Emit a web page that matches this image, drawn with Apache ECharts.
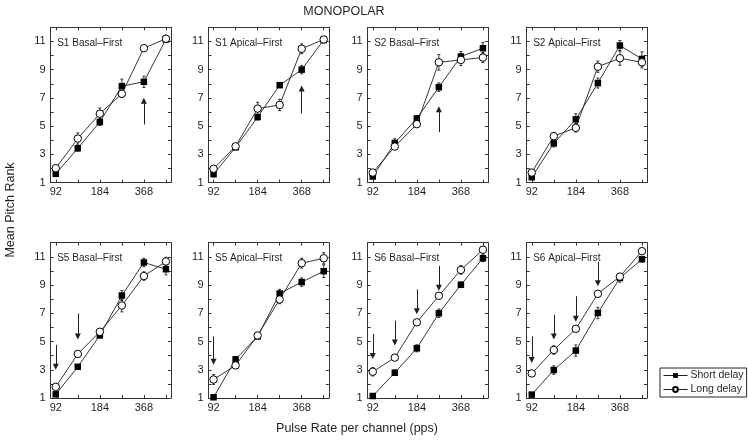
<!DOCTYPE html>
<html>
<head>
<meta charset="utf-8">
<script src="https://cdn.jsdelivr.net/npm/echarts@6/dist/echarts.min.js"></script>
<style>html,body{margin:0;padding:0;background:#fff}#c{width:748px;height:445px}</style>
</head>
<body>
<div id="c"></div>
<script>
// ---- data ----
const rates = ['92', '130', '184', '260', '368', '520'];
const xTickLabels = ['92', '', '184', '', '368', ''];
const yTickLabels = [1, 3, 5, 7, 9, 11];
const panelTitles = ['S1 Basal\u2013First', 'S1 Apical\u2013First', 'S2 Basal\u2013First', 'S2 Apical\u2013First',
                     'S5 Basal\u2013First', 'S5 Apical\u2013First', 'S6 Basal\u2013First', 'S6 Apical\u2013First'];

const shortS1Basal  = [1.62, 3.43, 5.29, 7.83, 8.14, 11.14];
const errShortS1Basal = [0.15, 0.2, 0.25, 0.5, 0.4, 0.2];
const longS1Basal   = [2.02, 4.12, 5.88, 7.29, 10.52, 11.19];
const errLongS1Basal = [0.2, 0.4, 0.4, 0.25, 0.15, 0.25];

const shortS1Apical = [1.6, 3.5, 5.64, 7.9, 9.0, 11.1];
const errShortS1Apical = [0.2, 0.15, 0.2, 0.15, 0.3, 0.2];
const longS1Apical  = [1.98, 3.57, 6.24, 6.5, 10.48, 11.14];
const errLongS1Apical = [0.2, 0.15, 0.45, 0.4, 0.35, 0.2];

const shortS2Basal  = [1.43, 3.81, 5.55, 7.76, 9.93, 10.52];
const errShortS2Basal = [0.15, 0.3, 0.2, 0.3, 0.35, 0.4];
const longS2Basal   = [1.71, 3.55, 5.14, 9.52, 9.69, 9.86];
const errLongS2Basal = [0.15, 0.2, 0.15, 0.55, 0.4, 0.35];

const shortS2Apical = [1.38, 3.78, 5.48, 8.05, 10.71, 9.76];
const errShortS2Apical = [0.15, 0.25, 0.4, 0.35, 0.35, 0.5];
const longS2Apical  = [1.71, 4.29, 4.88, 9.21, 9.81, 9.52];
const errLongS2Apical = [0.2, 0.25, 0.3, 0.4, 0.5, 0.4];

const shortS5Basal  = [1.26, 3.21, 5.43, 8.26, 10.6, 10.12];
const errShortS5Basal = [0.1, 0.15, 0.15, 0.35, 0.3, 0.4];
const longS5Basal   = [1.79, 4.12, 5.69, 7.55, 9.64, 10.67];
const errLongS5Basal = [0.15, 0.15, 0.15, 0.45, 0.3, 0.3];

const shortS5Apical = [1.05, 3.74, 5.36, 8.4, 9.21, 9.98];
const errShortS5Apical = [0.1, 0.15, 0.15, 0.3, 0.3, 0.45];
const longS5Apical  = [2.31, 3.31, 5.43, 7.98, 10.55, 10.9];
const errLongS5Apical = [0.35, 0.15, 0.15, 0.3, 0.35, 0.4];

const shortS6Basal  = [1.14, 2.79, 4.52, 7.0, 9.02, 10.9];
const errShortS6Basal = [0.1, 0.2, 0.25, 0.3, 0.2, 0.25];
const longS6Basal   = [2.86, 3.86, 6.36, 8.24, 10.07, 11.5];
const errLongS6Basal = [0.3, 0.15, 0.15, 0.15, 0.3, 0.2];

const shortS6Apical = [1.24, 2.98, 4.36, 7.02, 9.5, 10.83];
const errShortS6Apical = [0.15, 0.3, 0.4, 0.4, 0.3, 0.2];
const longS6Apical  = [2.74, 4.4, 5.9, 8.38, 9.6, 11.4];
const errLongS6Apical = [0.15, 0.3, 0.15, 0.15, 0.2, 0.15];

// arrows: [rate index, start value, tip value]
const arrowsS1Basal  = [[4, 5.12, 6.79]];
const arrowsS1Apical = [[4, 5.9, 7.67]];
const arrowsS2Basal  = [[3, 4.57, 6.19]];
const arrowsS2Apical = [];
const arrowsS5Basal  = [[0, 4.76, 3.21], [1, 6.98, 5.36]];
const arrowsS5Apical = [[0, 5.36, 3.57]];
const arrowsS6Basal  = [[0, 5.55, 3.98], [1, 6.48, 4.93], [2, 8.69, 7.14], [3, 10.36, 8.81]];
const arrowsS6Apical = [[0, 5.36, 3.69], [1, 6.9, 5.36], [2, 8.21, 6.62], [3, 10.64, 9.12]];

const panels = [
  [shortS1Basal, errShortS1Basal, longS1Basal, errLongS1Basal, arrowsS1Basal],
  [shortS1Apical, errShortS1Apical, longS1Apical, errLongS1Apical, arrowsS1Apical],
  [shortS2Basal, errShortS2Basal, longS2Basal, errLongS2Basal, arrowsS2Basal],
  [shortS2Apical, errShortS2Apical, longS2Apical, errLongS2Apical, arrowsS2Apical],
  [shortS5Basal, errShortS5Basal, longS5Basal, errLongS5Basal, arrowsS5Basal],
  [shortS5Apical, errShortS5Apical, longS5Apical, errLongS5Apical, arrowsS5Apical],
  [shortS6Basal, errShortS6Basal, longS6Basal, errLongS6Basal, arrowsS6Basal],
  [shortS6Apical, errShortS6Apical, longS6Apical, errLongS6Apical, arrowsS6Apical]
];

// ---- layout ----
const FONT = "'Liberation Sans', Arial, sans-serif";
const INK = '#231f20';
const colLefts = [50.7, 208.5, 367.7, 526.7];
const rowTops = [27.3, 242.7];
const GW = 120.3, GH = 155.3;

const grids = [], xAxes = [], yAxes = [], series = [], titles = [];
titles.push({text: 'MONOPOLAR', left: 344, top: 5, textAlign: 'center', padding: 0,
  textStyle: {fontFamily: FONT, fontSize: 12.5, fontWeight: 'normal', color: INK}});

function errBarSeries(vals, errs, g) {
  return {
    type: 'custom', xAxisIndex: 2 * g, yAxisIndex: 2 * g, z: 1, silent: true,
    data: vals.map((v, i) => [i, v, errs[i]]),
    renderItem: function (params, api) {
      const x = api.value(0), y = api.value(1), e = api.value(2);
      const lo = api.coord([x, y - e]), hi = api.coord([x, y + e]);
      const st = {stroke: INK, lineWidth: 0.9};
      return {type: 'group', children: [
        {type: 'line', shape: {x1: lo[0], y1: lo[1], x2: hi[0], y2: hi[1]}, style: st},
        {type: 'line', shape: {x1: lo[0] - 1.5, y1: lo[1], x2: lo[0] + 1.5, y2: lo[1]}, style: st},
        {type: 'line', shape: {x1: hi[0] - 1.5, y1: hi[1], x2: hi[0] + 1.5, y2: hi[1]}, style: st}
      ]};
    }
  };
}

panels.forEach((p, g) => {
  const row = Math.floor(g / 4), col = g % 4;
  const left = colLefts[col], top = rowTops[row];
  grids.push({left: left, top: top, width: GW, height: GH, containLabel: false});
  const axLine = {show: true, onZero: false, lineStyle: {color: '#333', width: 1}};
  const tickX = {show: true, inside: true, length: 3, customValues: [0, 1, 2, 3, 4, 5], lineStyle: {color: '#333'}};
  xAxes.push({gridIndex: g, type: 'value', position: 'bottom', min: -0.23, max: 5.23,
    axisLine: axLine, axisTick: tickX, splitLine: {show: false},
    axisLabel: {customValues: [0, 2, 4], formatter: v => xTickLabels[Math.round(v)], fontFamily: FONT, fontSize: 11, color: INK, margin: 4}});
  xAxes.push({gridIndex: g, type: 'value', position: 'top', min: -0.23, max: 5.23,
    axisLine: axLine, axisTick: tickX, splitLine: {show: false}, axisLabel: {show: false}});
  const tickY = {show: true, inside: true, length: 3, lineStyle: {color: '#333'}};
  yAxes.push({gridIndex: g, type: 'value', position: 'left', min: 1, max: 12, interval: 1,
    axisLine: axLine, axisTick: tickY, splitLine: {show: false},
    axisLabel: {customValues: yTickLabels, fontFamily: FONT, fontSize: 11, color: INK, margin: 5}});
  yAxes.push({gridIndex: g, type: 'value', position: 'right', min: 1, max: 12, interval: 1,
    axisLine: axLine, axisTick: tickY, splitLine: {show: false}, axisLabel: {show: false}});

  titles.push({text: panelTitles[g], left: left + 6.5, top: top + 11, padding: 0,
    textStyle: {fontFamily: FONT, fontSize: 10, fontWeight: 'normal', color: INK}});

  const [sv, se, lv, le, arr] = p;
  series.push(errBarSeries(sv, se, g));
  series.push(errBarSeries(lv, le, g));
  series.push({name: 'Short delay', type: 'line', xAxisIndex: 2 * g, yAxisIndex: 2 * g, z: 3,
    data: sv.map((v, i) => [i, v]), symbol: 'rect', symbolSize: 6.5, showSymbol: true,
    lineStyle: {color: INK, width: 0.9}, itemStyle: {color: '#000', borderColor: '#000', borderWidth: 0},
    emphasis: {disabled: true}, animation: false});
  series.push({name: 'Long delay', type: 'line', xAxisIndex: 2 * g, yAxisIndex: 2 * g, z: 4,
    data: lv.map((v, i) => [i, v]), symbol: 'circle', symbolSize: 7.5, showSymbol: true,
    lineStyle: {color: INK, width: 0.9}, itemStyle: {color: '#fff', borderColor: '#000', borderWidth: 1},
    emphasis: {disabled: true}, animation: false});
  if (arr.length) {
    series.push({type: 'lines', coordinateSystem: 'cartesian2d', xAxisIndex: 2 * g, yAxisIndex: 2 * g, z: 2,
      silent: true, symbol: ['none', 'triangle'], symbolSize: [0, 6],
      lineStyle: {color: INK, width: 1, opacity: 1},
      data: arr.map(a => ({coords: [[a[0], a[1]], [a[0], a[2]]]}))});
  }
});

const chart = echarts.init(document.getElementById('c'), null, {renderer: 'canvas'});
chart.setOption({
  animation: false,
  backgroundColor: '#fff',
  title: titles,
  grid: grids,
  xAxis: xAxes,
  yAxis: yAxes,
  series: series,
  legend: {
    data: ['Short delay', 'Long delay'], orient: 'vertical', left: 660, top: 368,
    itemWidth: 24, itemHeight: 6, itemGap: 3, padding: [2, 3, 2, 3],
    lineStyle: {width: 1, color: INK},
    borderColor: '#222', borderWidth: 1, borderRadius: 0,
    textStyle: {fontFamily: FONT, fontSize: 10.5, color: INK, padding: [0, 0, 0, -2]}
  },
  graphic: [
    {type: 'text', x: 357, y: 429, style: {text: 'Pulse Rate per channel (pps)', font: '12.5px ' + FONT, fill: INK, align: 'center', verticalAlign: 'middle'}},
    {type: 'text', x: 11, y: 210, rotation: Math.PI / 2, style: {text: 'Mean Pitch Rank', font: '12.5px ' + FONT, fill: INK, align: 'center', verticalAlign: 'middle'}}
  ]
});
</script>
</body>
</html>
